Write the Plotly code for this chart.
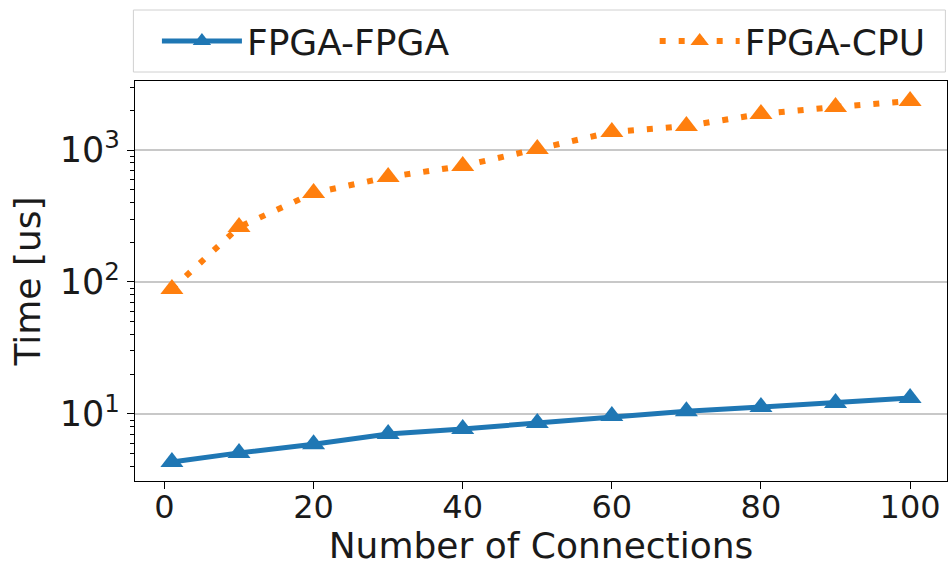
import plotly.graph_objects as go

connections = [1, 10, 20, 30, 40, 50, 60, 70, 80, 90, 100]
fpga_fpga = [4.33, 5.07, 5.9, 7.05, 7.7, 8.55, 9.66, 10.5, 11.3, 12.1, 13.2]
fpga_cpu = [88.5, 261, 472, 624, 757, 1018, 1369, 1520, 1874, 2118, 2349]
x_ticks = [0, 20, 40, 60, 80, 100]
y_ticks = [10, 100, 1000]
y_ticklabels = ["10<sup>1</sup>", "10<sup>2</sup>", "10<sup>3</sup>"]

BLUE = "#1f77b4"
ORANGE = "#ff7f0e"
FONT = "DejaVu Sans"

minor_vals = [m * 10 ** e for e in range(0, 4) for m in range(2, 10)]

fig = go.Figure()
fig.add_trace(go.Scatter(
    x=connections, y=fpga_fpga, name="FPGA-FPGA", mode="lines+markers",
    line=dict(color=BLUE, width=5),
    marker=dict(symbol="triangle-up", size=20, color=BLUE),
    legend="legend",
))
fig.add_trace(go.Scatter(
    x=connections, y=fpga_cpu, name="FPGA-CPU", mode="lines+markers",
    line=dict(color=ORANGE, width=6, dash="6px,13px"),
    marker=dict(symbol="triangle-up", size=20, color=ORANGE),
    legend="legend2",
))

leg_common = dict(
    orientation="h", y=1.1, yanchor="middle",
    font=dict(size=36, family=FONT, color="#1a1a1a"), bgcolor="rgba(0,0,0,0)",
    itemwidth=80,
)

fig.update_layout(
    width=948, height=568,
    margin=dict(l=135, r=1, t=81, b=87),
    paper_bgcolor="white", plot_bgcolor="white",
    font=dict(family=FONT, size=32, color="#1a1a1a"),
    showlegend=True,
    legend=dict(x=0.027, xanchor="left", **leg_common),
    legend2=dict(x=0.64, xanchor="left", **leg_common),
    shapes=[dict(
        type="rect", xref="paper", yref="paper",
        x0=-0.002, x1=0.998, y0=1.0225, y1=1.1775,
        line=dict(color="#d0d0d0", width=1), fillcolor="rgba(0,0,0,0)",
    )],
)

fig.update_xaxes(
    range=[-3.95, 104.95], tickvals=x_ticks,
    ticks="outside", ticklen=7, tickwidth=1.2, tickcolor="black",
    showline=True, linecolor="black", linewidth=1.2, mirror=True,
    showgrid=False, zeroline=False, ticklabelstandoff=-10,
    tickfont=dict(size=32),
    title=dict(text="Number of Connections", font=dict(size=36), standoff=2),
)
fig.update_yaxes(
    type="log", range=[0.492, 3.523], tickvals=y_ticks, ticktext=y_ticklabels,
    ticks="outside", ticklen=7, tickwidth=1.2, tickcolor="black",
    showline=True, linecolor="black", linewidth=1.2, mirror=True,
    showgrid=True, gridcolor="#c8c8c8", gridwidth=1.5, zeroline=False,
    minor=dict(tickvals=minor_vals, ticks="outside", ticklen=4,
               tickcolor="black", showgrid=False),
    tickfont=dict(size=35),
    title=dict(text="Time [us]", font=dict(size=36), standoff=8),
)

fig.write_html("out.html")
